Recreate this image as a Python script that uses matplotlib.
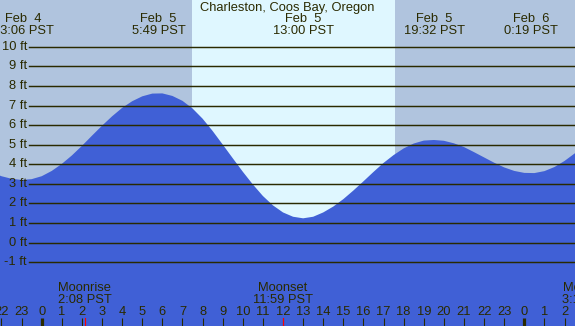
import numpy as np
import matplotlib
matplotlib.use("Agg")
import matplotlib.pyplot as plt
from matplotlib.transforms import blended_transform_factory

# ---- data (hours relative to Feb 5 00:00 PST) ----
hours = [-2.5, -2.0, -1.5, -1.0, -0.5, 0.0, 0.5, 1.0, 1.5, 2.0, 2.5, 3.0, 3.5, 4.0,
         4.5, 5.0, 5.5, 6.0, 6.5, 7.0, 7.5, 8.0, 8.5, 9.0, 9.5, 10.0, 10.5, 11.0,
         11.5, 12.0, 12.5, 13.0, 13.5, 14.0, 14.5, 15.0, 15.5, 16.0, 16.5, 17.0,
         17.5, 18.0, 18.5, 19.0, 19.5, 20.0, 20.5, 21.0, 21.5, 22.0, 22.5, 23.0,
         23.5, 24.0, 24.5, 25.0, 25.5, 26.0, 26.5, 27.0]
heights = [3.60, 3.39, 3.26, 3.20, 3.24, 3.39, 3.66, 4.02, 4.45, 4.94, 5.46, 5.97,
           6.45, 6.88, 7.22, 7.47, 7.61, 7.62, 7.49, 7.24, 6.85, 6.33, 5.70, 5.01,
           4.31, 3.62, 2.97, 2.38, 1.90, 1.54, 1.32, 1.24, 1.32, 1.54, 1.84, 2.22,
           2.66, 3.13, 3.61, 4.07, 4.47, 4.81, 5.06, 5.21, 5.24, 5.20, 5.07, 4.88,
           4.62, 4.35, 4.08, 3.84, 3.66, 3.56, 3.55, 3.65, 3.86, 4.17, 4.55, 4.99]

title = "Charleston, Coos Bay, Oregon"
extreme_hours = [-0.9, 5.817, 13.0, 19.533, 24.317]
extreme_dates = ["Feb  4", "Feb  5", "Feb  5", "Feb  5", "Feb  6"]
extreme_clock = ["23:06 PST", "5:49 PST", "13:00 PST", "19:32 PST", "0:19 PST"]

moon_hours = [2.133, 11.983, 27.217]
moon_names = ["Moonrise", "Moonset", "Moonrise"]
moon_clock = ["2:08 PST", "11:59 PST", "3:13 PST"]

sunrise_hour = 7.47
sunset_hour = 17.57

ft_levels = [-1, 0, 1, 2, 3, 4, 5, 6, 7, 8, 9, 10]
ft_labels = ["-1 ft", "0 ft", "1 ft", "2 ft", "3 ft", "4 ft", "5 ft", "6 ft",
             "7 ft", "8 ft", "9 ft", "10 ft"]
tick_hours = list(range(-2, 27))
tick_labels = [str(h % 24) for h in tick_hours]

# ---- styling ----
W, H = 575, 326
night_col = "#b0c4de"
day_col = "#dff7ff"
water_col = "#4060d6"
ink = "#2a2a00"
fs = 9.3
plt.rcParams['font.family'] = ['Liberation Sans', 'DejaVu Sans']

fig = plt.figure(figsize=(W / 100, H / 100), dpi=100)
ax = fig.add_axes([0, 0, 1, 1])
ax.set_axis_off()
x0, x1 = -2.074, 26.52
y0, y1 = -4.26, 12.39
ax.set_xlim(x0, x1)
ax.set_ylim(y0, y1)

ax.axvspan(x0, sunrise_hour, color=night_col, lw=0, zorder=0)
ax.axvspan(sunrise_hour, sunset_hour, color=day_col, lw=0, zorder=0)
ax.axvspan(sunset_hour, x1, color=night_col, lw=0, zorder=0)

ax.fill_between(hours, y0, heights, color=water_col, lw=0, zorder=1)

for lv, lb in zip(ft_levels, ft_labels):
    ax.axhline(lv, xmin=29 / W, xmax=1, color=ink, lw=1.05, zorder=2)
    ax.text(27 / W, lv, lb, transform=blended_transform_factory(ax.transAxes, ax.transData),
            ha='right', va='center', fontsize=fs, color=ink, zorder=3)

tr = blended_transform_factory(ax.transData, fig.transFigure)
def fy(px):
    return 1 - px / H

fig.text(0.5, fy(7.5), title, ha='center', va='center', fontsize=fs, color=ink)
for h, d, c in zip(extreme_hours, extreme_dates, extreme_clock):
    ax.text(h, fy(19), d, transform=tr, ha='center', va='center', fontsize=fs, color=ink)
    ax.text(h, fy(31.5), c, transform=tr, ha='center', va='center', fontsize=fs, color=ink)

for h, n, c in zip(moon_hours, moon_names, moon_clock):
    ax.text(h, fy(288), n, transform=tr, ha='center', va='center', fontsize=fs, color=ink, clip_on=False)
    ax.text(h, fy(300), c, transform=tr, ha='center', va='center', fontsize=fs, color=ink, clip_on=False)
    ax.plot([h, h], [fy(318), fy(326)], transform=tr, color='red', lw=0.8, zorder=4)

for h, lb in zip(tick_hours, tick_labels):
    ax.text(h, fy(312), lb, transform=tr, ha='center', va='center', fontsize=fs, color=ink)
    lw = 2.3 if h % 24 == 0 else 0.8
    ax.plot([h, h], [fy(318), fy(326)], transform=tr, color=ink, lw=lw, zorder=3,
            solid_capstyle='butt')

fig.savefig("out.png", dpi=100)
